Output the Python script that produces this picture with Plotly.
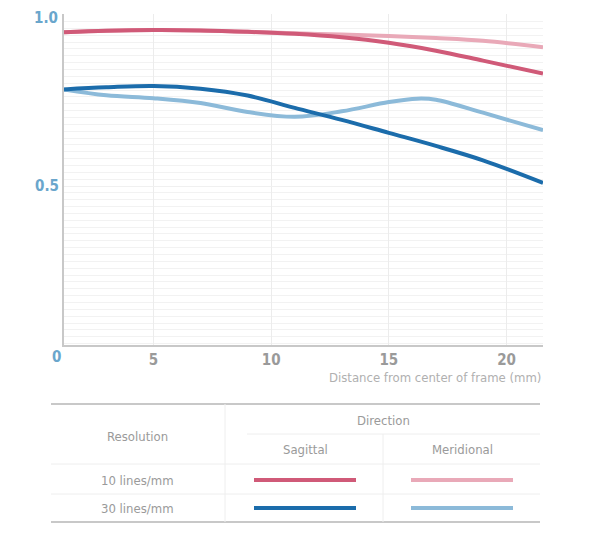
import plotly.graph_objects as go

# MTF data (distance from center in mm -> contrast)
x_mm = [1.2, 3, 5, 7, 9, 11, 13, 15, 17, 19, 21.55]
sag_10 = [0.949, 0.953, 0.955, 0.954, 0.950, 0.944, 0.934, 0.918, 0.895, 0.866, 0.828]
mer_10 = [0.949, 0.953, 0.955, 0.954, 0.950, 0.946, 0.942, 0.938, 0.932, 0.924, 0.905]
sag_30 = [0.782, 0.788, 0.792, 0.784, 0.764, 0.728, 0.693, 0.655, 0.617, 0.575, 0.509]
x_mer30 = [1.2, 3, 5, 7, 9, 11, 13, 15, 16.2, 17, 19, 21.55]
mer_30 = [0.782, 0.765, 0.756, 0.742, 0.716, 0.702, 0.718, 0.745, 0.755, 0.752, 0.714, 0.663]

x_ticks = [5, 10, 15, 20]
y_ticks = [0.5, 1.0]
y_tick_labels = ["0.5", "1.0"]

C_S10 = "#d05a78"
C_M10 = "#e9a9b8"
C_S30 = "#1b6cab"
C_M30 = "#8cbad9"
GRAY = "#9a9a9a"
BLUE_TXT = "#6aa6cc"
FONT = "Liberation Sans Narrow, DejaVu Sans Condensed, sans-serif"

# the page body has an 8px margin, so the figure is shifted by that amount
OFF = 8
W, H = 604 - OFF, 550 - OFF
L, R, T, B = 64, 543, 14, 345  # plot area in page pixels


def px(x):
    return (x - L) / (R - L)


def py(y):
    return (B - y) / (B - T)


fig = go.Figure()
# meridional first so sagittal lies on top where they overlap
fig.add_trace(go.Scatter(x=x_mm, y=mer_10, mode="lines", line=dict(color=C_M10, width=4, shape="spline")))
fig.add_trace(go.Scatter(x=x_mer30, y=mer_30, mode="lines", line=dict(color=C_M30, width=4, shape="spline")))
fig.add_trace(go.Scatter(x=x_mm, y=sag_10, mode="lines", line=dict(color=C_S10, width=4, shape="spline")))
fig.add_trace(go.Scatter(x=x_mm, y=sag_30, mode="lines", line=dict(color=C_S30, width=4, shape="spline")))

fig.update_layout(
    width=W, height=H,
    margin=dict(l=L - OFF, r=W - (R - OFF), t=T - OFF, b=H - (B - OFF), pad=0),
    plot_bgcolor="white", paper_bgcolor="white",
    showlegend=False,
    font=dict(family=FONT, color=GRAY, size=13),
)
fig.update_xaxes(
    range=[1.2, 21.55], tickvals=x_ticks, showgrid=True, gridcolor="#ececec", gridwidth=1,
    showline=True, linecolor="#c8c8c8", linewidth=2, zeroline=False, ticks="",
    tickfont=dict(family=FONT, size=15, color=GRAY, weight="bold"),
)
# the top label sits on the figure edge, so it is drawn as an annotation below
fig.update_yaxes(
    range=[0.036, 1.002], tickvals=y_ticks, ticktext=[y_tick_labels[0], ""],
    showgrid=True, gridcolor="#f0f0f0", gridwidth=1,
    minor=dict(dtick=0.02, tick0=0, showgrid=True, gridcolor="#f2f2f2", gridwidth=1),
    showline=True, linecolor="#c8c8c8", linewidth=2, zeroline=False, ticks="",
    tickfont=dict(family=FONT, size=15, color=BLUE_TXT, weight="bold"),
)

annotations = [
    dict(x=px(60), y=py(OFF), text="<b>%s</b>" % y_tick_labels[1], xanchor="right", yanchor="top",
         height=15, font=dict(size=15, color=BLUE_TXT)),
    dict(x=px(56), y=py(357), text="<b>0</b>", font=dict(size=15, color=BLUE_TXT)),
    dict(x=px(543), y=py(377), text="Distance from center of frame (mm)", xanchor="right",
         font=dict(size=13, color="#b0b0b0")),
    dict(x=px(383), y=py(420), text="Direction"),
    dict(x=px(137), y=py(437), text="Resolution"),
    dict(x=px(305), y=py(449), text="Sagittal"),
    dict(x=px(462), y=py(449), text="Meridional"),
    dict(x=px(137), y=py(480), text="10 lines/mm"),
    dict(x=px(137), y=py(508), text="30 lines/mm"),
]
for a in annotations:
    a.setdefault("xanchor", "center")
    a.setdefault("yanchor", "middle")
    a.update(xref="paper", yref="paper", showarrow=False)
    f = a.get("font", {})
    f.setdefault("size", 13)
    f.setdefault("color", GRAY)
    f.setdefault("family", FONT)
    a["font"] = f
fig.update_layout(annotations=annotations)


def hline(x0, x1, y, color, width):
    return dict(type="line", xref="paper", yref="paper", x0=px(x0), x1=px(x1), y0=py(y), y1=py(y),
                line=dict(color=color, width=width))


def vline(x, y0, y1, color, width):
    return dict(type="line", xref="paper", yref="paper", x0=px(x), x1=px(x), y0=py(y0), y1=py(y1),
                line=dict(color=color, width=width))


shapes = [
    hline(51, 540, 404, "#c8c8c8", 2),
    hline(51, 540, 522, "#c8c8c8", 2),
    hline(247, 540, 434, "#eeeeee", 1),
    hline(51, 540, 464, "#eeeeee", 1),
    hline(51, 540, 494, "#eeeeee", 1),
    vline(225, 404, 522, "#eeeeee", 1),
    vline(383, 434, 522, "#eeeeee", 1),
    # legend swatches
    hline(254, 356, 480, C_S10, 4),
    hline(411, 513, 480, C_M10, 4),
    hline(254, 356, 508, C_S30, 4),
    hline(411, 513, 508, C_M30, 4),
]
fig.update_layout(shapes=shapes)

fig.write_html("out.html")
